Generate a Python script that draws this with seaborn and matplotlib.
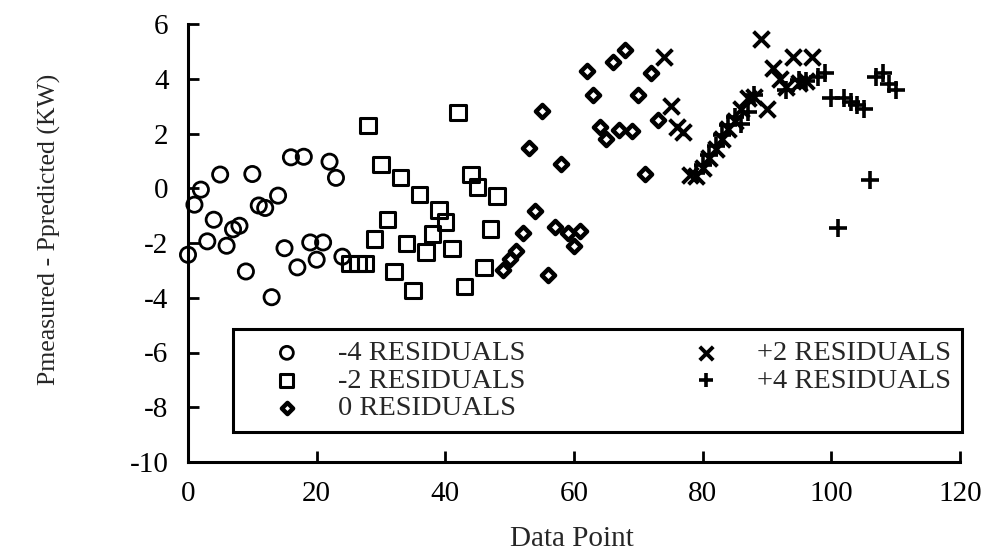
import matplotlib
matplotlib.use("Agg")
import matplotlib.pyplot as plt
import seaborn as sns

# ---- data ----
x_m4 = list(range(0, 25))
y_m4 = [-2.43, -0.6, -0.05, -1.94, -1.15, 0.5, -2.1, -1.5, -1.37, -3.04,
        0.52, -0.63, -0.72, -3.98, -0.27, -2.19, 1.13, -2.89, 1.15, -1.98,
        -2.61, -1.98, 0.97, 0.38, -2.5]

x_m2 = [25.2, 26.4, 27.6] + list(range(28, 49))
y_m2 = [-2.75, -2.75, -2.75, 2.3, -1.85, 0.87, -1.14, -3.04, 0.4, -2.02,
        -3.74, -0.23, -2.33, -1.67, -0.8, -1.24, -2.2, 2.76, -3.59, 0.5,
        0.05, -2.9, -1.49, -0.29]

x_0 = list(range(49, 74))
y_0 = [-2.98, -2.59, -2.31, -1.64, 1.48, -0.84, 2.83, -3.16, -1.40, 0.87,
       -1.64, -2.10, -1.57, 4.30, 3.42, 2.23, 1.80, 4.60, 2.13, 5.04,
       2.08, 3.42, 0.51, 4.22, 2.48]

x_p2 = list(range(74, 98))
y_p2 = [4.8, 3.0, 2.25, 2.05, 0.5, 0.45, 0.75, 1.1, 1.45, 1.8,
        2.15, 2.45, 2.9, 3.3, 3.35, 5.45, 2.9, 4.4, 4.0, 3.7,
        4.8, 3.85, 3.9, 4.8]

x_p4 = [79, 80, 81, 82, 83, 84, 85, 86, 87, 88, 93, 95, 96, 98, 99,
        100, 101, 102, 103, 104, 105, 106, 107, 108, 109, 110]
y_p4 = [0.55, 0.85, 1.2, 1.55, 1.95, 2.3, 2.6, 2.35, 2.8, 3.4, 3.6, 3.95,
        3.9, 4.05, 4.2, 3.3, -1.45, 3.3, 3.15, 3.05, 2.9, 0.3, 4.05, 4.2,
        3.8, 3.6]

labels = ["-4 RESIDUALS", "-2 RESIDUALS", "0 RESIDUALS",
          "+2 RESIDUALS", "+4 RESIDUALS"]
x_ticks = [0, 20, 40, 60, 80, 100, 120]
y_ticks = [-10, -8, -6, -4, -2, 0, 2, 4, 6]

# ---- styling ----
sns.set_style("ticks")
plt.rcParams["font.family"] = ["Liberation Serif", "DejaVu Serif"]

fig = plt.figure(figsize=(9.9, 5.53), dpi=100)
ax = fig.add_axes([188 / 990, 91 / 553, 772 / 990, 438 / 553])

common = dict(ax=ax, clip_on=False, zorder=3)
sns.scatterplot(x=x_m4, y=y_m4, marker="o", s=120, color="black",
                facecolor="none", edgecolor="black", linewidth=2.0,
                label=labels[0], **common)
sns.scatterplot(x=x_m2, y=y_m2, marker="s", s=125, color="black",
                facecolor="none", edgecolor="black", linewidth=2.2,
                label=labels[1], **common)
sns.scatterplot(x=x_0, y=y_0, marker="D", s=45, color="black",
                facecolor="white", edgecolor="black", linewidth=3.2,
                label=labels[2], **common)
sns.scatterplot(x=x_p2, y=y_p2, marker="x", s=130, color="black",
                linewidth=2.8, label=labels[3], **common)
sns.scatterplot(x=x_p4, y=y_p4, marker="+", s=160, color="black",
                linewidth=2.6, label=labels[4], **common)

ax.set_xlim(0, 120)
ax.set_ylim(-10, 6)
ax.set_xticks(x_ticks)
ax.set_yticks(y_ticks)
ax.set_xticklabels([str(v) for v in x_ticks])
ax.set_yticklabels([str(v) for v in y_ticks])
ax.tick_params(direction="in", length=8, width=2, labelsize=21, pad=14,
               colors="black")
for side in ["top", "right"]:
    ax.spines[side].set_visible(False)
for side in ["left", "bottom"]:
    ax.spines[side].set_linewidth(2.2)
    ax.spines[side].set_color("black")

ax.set_xlabel("Data Point", fontsize=21)
ax.set_ylabel("Pmeasured - Ppredicted (KW)", fontsize=18.5)
ax.xaxis.set_label_coords(0.497, -0.145)
ax.yaxis.set_label_coords(-0.165, 0.53)

leg = ax.legend(loc="upper left", bbox_to_anchor=(0.058, 0.0, 0.945, 0.3037),
                mode="expand", ncol=2, fontsize=20.5, frameon=True,
                fancybox=False, shadow=False, edgecolor="black",
                framealpha=1, handlelength=3.0, handletextpad=0.3,
                labelspacing=0.05, borderpad=0.4, borderaxespad=0,
                scatterpoints=1, markerscale=0.85)
leg.get_frame().set_linewidth(2.2)
leg.set_zorder(5)

fig.savefig("out.png", dpi=100)
